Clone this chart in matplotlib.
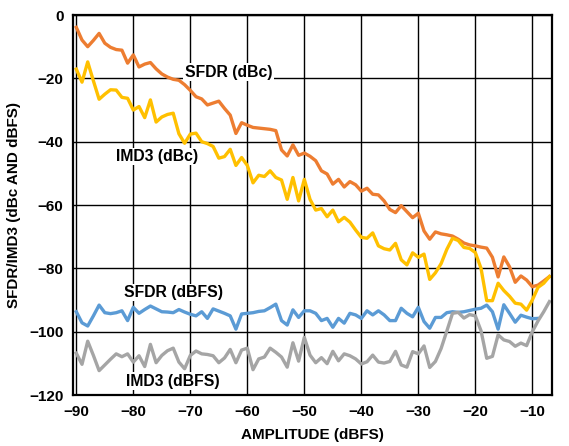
import numpy as np
import matplotlib.pyplot as plt

plt.rcParams['font.family'] = ['Liberation Sans', 'DejaVu Sans']
plt.rcParams['font.weight'] = 'bold'

# amplitude axis, 1 dB steps
amplitude = list(range(-90, -6))

sfdr_dbc = [-3.9, -7.9, -10, -8, -5.8, -8.9, -10.2, -10.9, -11.1, -15.2,
            -12.6, -16.4, -15.5, -15, -17, -18.6, -19.6, -20.3, -20.6, -22,
            -23.8, -25.8, -26.5, -28.4, -27.8, -27.2, -29.5, -31.6, -37.4, -34,
            -34.8, -35.5, -35.7, -35.9, -36.1, -36.5, -42.6, -44.5, -41, -44.3,
            -43.6, -44.6, -46, -49.2, -50.2, -53.4, -51.9, -54.3, -52.6, -53.6,
            -55.6, -54.7, -56.6, -56.8, -58.7, -61.4, -62.4, -60.2, -62.1, -64,
            -62.6, -68.2, -70.8, -68.5, -69.1, -69.4, -69.8, -70.8, -72, -72.6,
            -72.9, -73.3, -73.6, -76.5, -82.7, -76.4, -79.5, -84.4, -82.4, -83.7,
            -85.8, -85.3, -84, -82.6]

imd3_dbc = [-17.1, -21.2, -14.8, -20.8, -26.6, -25, -23.6, -23.7, -26, -26.3,
            -30, -28.9, -32.4, -26.8, -33.8, -32.2, -31.4, -31, -37.5, -40.5,
            -37.6, -37.3, -40, -40.6, -41.5, -45.2, -44.7, -42.4, -47.5, -45,
            -47.5, -53, -50.6, -51, -49.2, -51.3, -52.1, -58.2, -51.3, -58.7,
            -51.9, -58.2, -61.6, -61.1, -63.7, -61.6, -65.3, -63.9, -65.4, -67.9,
            -70.2, -70.5, -68.8, -72.9, -73.8, -74.2, -72.1, -77.3, -78.9, -75.1,
            -76.5, -75.5, -83.5, -81.4, -78.5, -74, -70.5, -71.2, -73.4, -73.7,
            -75, -80, -90.2, -90.2, -84.7, -87, -88.8, -91, -91.3, -93.2,
            -90, -86, -84.7, -82.6]

sfdr_dbfs = [-93.7, -97.2, -98.2, -95, -91.6, -94, -94.3, -94, -93.4, -96.5,
             -92.3, -94.2, -93, -91.9, -92.8, -93.7, -93.8, -94, -93, -93.8,
             -94.5, -95, -93.7, -95.8, -92.8, -93.5, -94.2, -95, -99.2, -94.4,
             -94.2, -94, -93.6, -93.4, -92.4, -91.3, -96.5, -97.9, -93.1, -95.5,
             -93.4, -93.4, -94.2, -96.5, -95.8, -98.6, -95.8, -97.3, -94.2, -94.7,
             -95.8, -93.4, -94.7, -93.4, -94.7, -96.5, -96.5, -92.6, -94.2, -95.3,
             -92.3, -96.8, -98.9, -95.5, -95.5, -94, -93.7, -93.9, -93.7, -93.3,
             -92.9, -92.6, -91.6, -93.7, -99.2, -91.5, -94.2, -97, -94.8, -95.4,
             -95.9, -95.8]

imd3_dbfs = [-106.8, -110.3, -103, -107.5, -112.3, -110.5, -108.7, -107, -107.9, -107,
             -109.6, -107.6, -111, -104, -109.8, -107.5, -106, -105.2, -109.6, -111.7,
             -107.5, -106.1, -107, -107.2, -107.6, -109.8, -108.3, -105.6, -109.8, -105.8,
             -105.2, -112, -108.6, -108, -105.2, -106.5, -108, -111.2, -103.5, -109.3,
             -101.8, -107.4, -109.8, -108.2, -110.1, -106.2, -109.2, -107, -107.6, -108.6,
             -110.2, -109.5, -107.4, -109.6, -109.9, -109.4, -106.2, -110.5, -111.2, -106.3,
             -107, -104.5, -111.3, -109.4, -105.3, -99.8, -94.2, -93.9, -95.7, -94.6,
             -95, -99.7, -108.4, -107.8, -101, -102.6, -103.1, -104.6, -103.6, -104.4,
             -100, -96.6, -93.7, -90.5]

fig = plt.figure(figsize=(5.69, 4.46), dpi=100)
ax = fig.add_axes([0.1288, 0.1143, 0.8408, 0.852])

lw = 2.4
ax.plot(amplitude, sfdr_dbc, color='#ED7D31', lw=lw)
ax.plot(amplitude, imd3_dbc, color='#FFC000', lw=lw)
ax.plot(amplitude[:len(sfdr_dbfs)], sfdr_dbfs, color='#5B9BD5', lw=lw)
ax.plot(amplitude, imd3_dbfs, color='#A5A5A5', lw=lw)

ax.set_xlim(-90.53, -6.6)
ax.set_ylim(-120, 0)
ax.set_xticks(np.arange(-90, 0, 10))
ax.set_yticks(np.arange(-120, 1, 20))
ax.grid(True, color='black', lw=1.0)
ax.tick_params(length=0, labelsize=11, pad=7)
for s in ax.spines.values():
    s.set_linewidth(1.6)

ax.set_xlabel('AMPLITUDE (dBFS)', fontsize=11, fontweight='bold', labelpad=7)
ax.set_ylabel('SFDR/IMD3 (dBc AND dBFS)', fontsize=11, fontweight='bold', labelpad=6)

box = dict(facecolor='white', edgecolor='none', pad=1)
ax.text(-63.3, -18, 'SFDR (dBc)', ha='center', va='center', fontsize=11.3, bbox=box)
ax.text(-75.9, -44.7, 'IMD3 (dBc)', ha='center', va='center', fontsize=11.3, bbox=box)
ax.text(-72.9, -87.6, 'SFDR (dBFS)', ha='center', va='center', fontsize=11.3, bbox=box)
ax.text(-73.1, -115.6, 'IMD3 (dBFS)', ha='center', va='center', fontsize=11.3, bbox=box)

fig.savefig('out.png', dpi=100)
